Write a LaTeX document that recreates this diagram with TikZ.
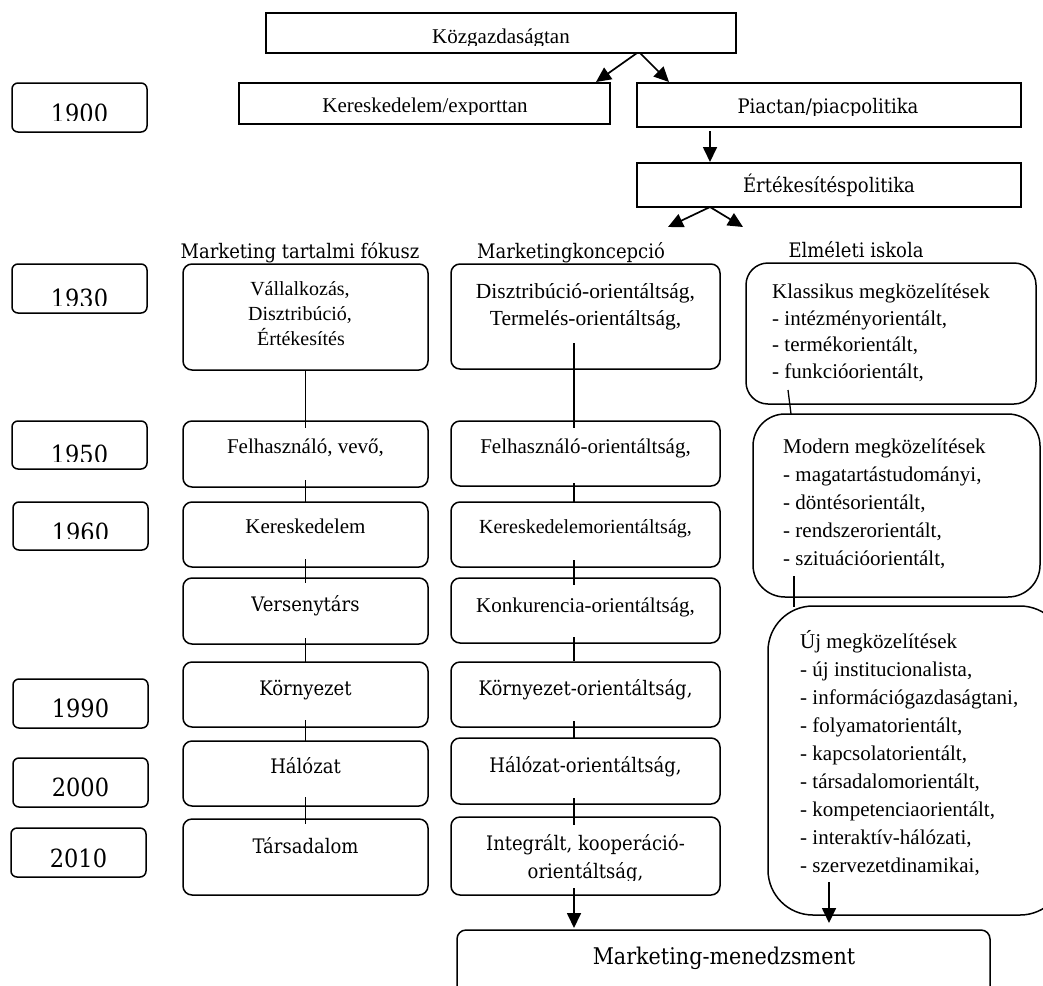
\documentclass[tikz,border=0pt]{standalone}
\usepackage{fontspec}
\setmainfont{Liberation Serif}
\newfontfamily\cam[FakeStretch=0.9]{DejaVu Serif}
\usetikzlibrary{arrows.meta}
\newcommand\boxat[6]{%
  \node[#1, minimum width={#5-#3}, minimum height={#6-#4}] (#2) at ({(#3+#5)/2},{(#4+#6)/2}) {};}
\begin{document}
\begin{tikzpicture}[x=1pt,y=-1pt,
  sqbox/.style={draw, line width=1.5pt, inner sep=0pt, outer sep=0pt},
  rbox/.style={draw, line width=1.5pt, rounded corners=9pt, inner sep=0pt, outer sep=0pt},
  yrbox/.style={draw, line width=1.5pt, rounded corners=6pt, inner sep=0pt, outer sep=0pt},
  conn/.style={line width=1.3pt},
  arrw/.style={line width=1.7pt, -{Triangle[length=15pt,width=14pt]}},
  tmtxt/.style={font=\fontsize{21}{27}\selectfont, inner sep=0pt, anchor=base},
  tmsmall/.style={font=\fontsize{20}{25}\selectfont, inner sep=0pt, anchor=base},
  tmleft/.style={font=\fontsize{21}{27}\selectfont, inner sep=0pt, anchor=base west},
  camtxt/.style={font=\cam\fontsize{20}{26}\selectfont, inner sep=0pt, anchor=base},
  yrtxt/.style={font=\cam\fontsize{25}{30}\selectfont, inner sep=0pt, anchor=base},
  mmtxt/.style={font=\cam\fontsize{23}{28}\selectfont, inner sep=0pt, anchor=base}]
\useasboundingbox (0,0) rectangle (1043,985);

% ---------- top ----------
\boxat{sqbox}{K}{266}{13}{736}{53}
\boxat{sqbox}{Ke}{239}{83}{610}{124}
\boxat{sqbox}{P}{637}{83}{1021}{127}
\boxat{sqbox}{E}{637}{163}{1021}{207}
\begin{scope}\clip (266,13) rectangle (736,45);
  \node[tmtxt] (tK) at (501,43) {Közgazdaságtan};\end{scope}
\begin{scope}\clip (239,83) rectangle (610,114);
  \node[tmtxt] (tKe) at (425,112) {Kereskedelem/exporttan};\end{scope}
\begin{scope}\clip (637,83) rectangle (1021,115);
  \node[camtxt] (tP) at (828,113) {Piactan/piacpolitika};\end{scope}
\node[camtxt] (tE) at (829,192) {Értékesítéspolitika};

\draw[arrw] ([xshift=136]K.south) -- ([xshift=171.5,yshift=1]Ke.north);
\draw[arrw] ([xshift=139]K.south) -- ([xshift=-160,yshift=1]P.north);
\draw[arrw] ([xshift=-119,yshift=-4]P.south) -- ([xshift=-119,yshift=1]E.north);
\coordinate (e1) at (668,227);
\coordinate (e2) at (743,227);
\draw[arrw] ([xshift=-119]E.south) -- (e1);
\draw[arrw] ([xshift=-119]E.south) -- (e2);

% ---------- years ----------
\boxat{yrbox}{y1900}{12}{83}{147}{132}
\boxat{yrbox}{y1930}{12}{264}{147}{313}
\boxat{yrbox}{y1950}{12}{421}{147}{469}
\boxat{yrbox}{y1960}{13}{502}{148}{550}
\boxat{yrbox}{y1990}{13}{679}{148}{728}
\boxat{yrbox}{y2000}{13}{758}{148}{807}
\boxat{yrbox}{y2010}{11}{828}{146}{877}
\begin{scope}\clip (12,83) rectangle (147,120);
  \node[yrtxt] (t1900) at (79.5,122) {1900};\end{scope}
\begin{scope}\clip (12,264) rectangle (147,305);
  \node[yrtxt] (t1930) at (79.5,307) {1930};\end{scope}
\begin{scope}\clip (12,421) rectangle (147,461);
  \node[yrtxt] (t1950) at (79.5,463) {1950};\end{scope}
\begin{scope}\clip (13,502) rectangle (148,538);
  \node[yrtxt] (t1960) at (80.5,541) {1960};\end{scope}
\node[yrtxt] (t1990) at (80.5,717) {1990};
\node[yrtxt] (t2000) at (80.5,796) {2000};
\node[yrtxt] (t2010) at (78.5,867) {2010};

% ---------- headers ----------
\node[camtxt] (h1) at (300,258) {Marketing tartalmi fókusz};
\node[camtxt] (h2) at (571,258) {Marketingkoncepció};
\node[camtxt] (h3) at (856,257) {Elméleti iskola};

% ---------- column 1 ----------
\boxat{rbox}{f1}{183}{264}{428}{370}
\boxat{rbox}{f2}{183}{421}{428}{487}
\boxat{rbox}{f3}{183}{502}{428}{567}
\boxat{rbox}{f4}{183}{578}{428}{644}
\boxat{rbox}{f5}{183}{662}{428}{727}
\boxat{rbox}{f6}{183}{741}{428}{806}
\boxat{rbox}{f7}{183}{819}{428}{895}
\node[tmsmall] (tf1a) at (300,295) {Vállalkozás,};
\node[tmsmall] (tf1b) at (300,320) {Disztribúció,};
\node[tmsmall] (tf1c) at (301,345) {Értékesítés};
\node[tmtxt] (tf2) at (305.5,453) {Felhasználó, vevő,};
\node[tmtxt] (tf3) at (305.5,533) {Kereskedelem};
\node[camtxt] (tf4) at (305.5,611) {Versenytárs};
\node[camtxt] (tf5) at (305.5,695) {Környezet};
\node[camtxt] (tf6) at (305.5,773) {Hálózat};
\node[camtxt] (tf7) at (305.5,853) {Társadalom};

\draw[conn] (f1.south) -- ([yshift=-7]f2.north);
\draw[conn] ([yshift=7]f2.south) -- (f3.north);
\draw[conn] ([yshift=8]f3.south) -- ([yshift=-5]f4.north);
\draw[conn] ([yshift=6]f4.south) -- (f5.north);
\draw[conn] ([yshift=7]f5.south) -- (f6.north);
\draw[conn] ([yshift=9]f6.south) -- ([yshift=-5]f7.north);

% ---------- column 2 ----------
\boxat{rbox}{g1}{451}{264}{720}{369}
\boxat{rbox}{g2}{451}{421}{720}{486}
\boxat{rbox}{g3}{451}{502}{720}{567}
\boxat{rbox}{g4}{451}{578}{720}{643}
\boxat{rbox}{g5}{451}{662}{720}{727}
\boxat{rbox}{g6}{451}{738}{720}{804}
\boxat{rbox}{g7}{451}{817}{720}{895}
\node[tmtxt, font=\fontsize{21.5}{27}\selectfont] (tg1a) at (585.5,298) {Disztribúció-orientáltság,};
\node[tmtxt, font=\fontsize{21.5}{27}\selectfont] (tg1b) at (585.5,325) {Termelés-orientáltság,};
\node[tmtxt] (tg2) at (585.5,453) {Felhasználó-orientáltság,};
\node[tmtxt, font=\fontsize{20}{26}\selectfont] (tg3) at (585.5,533) {Kereskedelemorientáltság,};
\node[tmtxt] (tg4) at (585.5,612) {Konkurencia-orientáltság,};
\node[camtxt] (tg5) at (585.5,695) {Környezet-orientáltság,};
\node[camtxt] (tg6) at (585.5,772) {Hálózat-orientáltság,};
\node[camtxt] (tg7a) at (585.5,850) {Integrált, kooperáció-};
\begin{scope}\clip (451,817) rectangle (720,880);
  \node[camtxt] (tg7b) at (585.5,878) {orientáltság,};\end{scope}

\draw[conn] ([xshift=-11.5,yshift=26]g1.south) -- ([xshift=-11.5,yshift=-7]g2.north);
\draw[conn] ([xshift=-11.5,yshift=3]g2.south) -- ([xshift=-11.5]g3.north);
\draw[conn] ([xshift=-11.5,yshift=7]g3.south) -- ([xshift=-11.5,yshift=-7]g4.north);
\draw[conn] ([xshift=-11.5,yshift=6]g4.south) -- ([xshift=-11.5,yshift=1]g5.north);
\draw[conn] ([xshift=-11.5,yshift=6]g5.south) -- ([xshift=-11.5]g6.north);
\draw[conn] ([xshift=-11.5,yshift=6]g6.south) -- ([xshift=-11.5,yshift=-8]g7.north);

% ---------- right column ----------
\boxat{rbox, rounded corners=22pt}{r1}{746}{263}{1036}{404}
\boxat{rbox, rounded corners=32pt}{r2}{753}{414}{1040}{597}
\boxat{rbox, rounded corners=45pt}{r3}{768}{606}{1065}{915}
\node[tmleft] (k0) at (772,298) {Klassikus megközelítések};
\node[tmleft] (k1) at (772,325) {- intézményorientált,};
\node[tmleft] (k2) at (772,351) {- termékorientált,};
\node[tmleft] (k3) at (772,378) {- funkcióorientált,};
\node[tmleft] (m0) at (783,453) {Modern megközelítések};
\node[tmleft] (m1) at (783,481) {- magatartástudományi,};
\node[tmleft] (m2) at (783,509) {- döntésorientált,};
\node[tmleft] (m3) at (783,537) {- rendszerorientált,};
\node[tmleft] (m4) at (783,565) {- szituációorientált,};
\node[tmleft] (u0) at (800,648) {Új megközelítések};
\node[tmleft] (u1) at (800,676) {- új institucionalista,};
\node[tmleft] (u2) at (800,704) {- információgazdaságtani,};
\node[tmleft] (u3) at (800,732) {- folyamatorientált,};
\node[tmleft] (u4) at (800,760) {- kapcsolatorientált,};
\node[tmleft] (u5) at (800,788) {- társadalomorientált,};
\node[tmleft] (u6) at (800,816) {- kompetenciaorientált,};
\node[tmleft] (u7) at (800,844) {- interaktív-hálózati,};
\node[tmleft] (u8) at (800,872) {- szervezetdinamikai,};

\draw[conn] ([xshift=-103,yshift=14]r1.south) -- ([xshift=-105.5]r2.north);
\draw[conn] ([xshift=-102.5,yshift=21]r2.south) -- ([xshift=-122.5,yshift=-1]r3.north);

% ---------- bottom ----------
\boxat{rbox}{mm}{457}{930}{990}{1000}
\node[mmtxt] (tmm) at (724,964) {Marketing-menedzsment};
\draw[arrw] ([xshift=-11.5,yshift=7]g7.south) -- ([xshift=-149.5,yshift=2]mm.north);
\draw[arrw] ([xshift=-87.5,yshift=33]r3.south) -- ([xshift=105.5,yshift=7]mm.north);
\end{tikzpicture}
\end{document}
